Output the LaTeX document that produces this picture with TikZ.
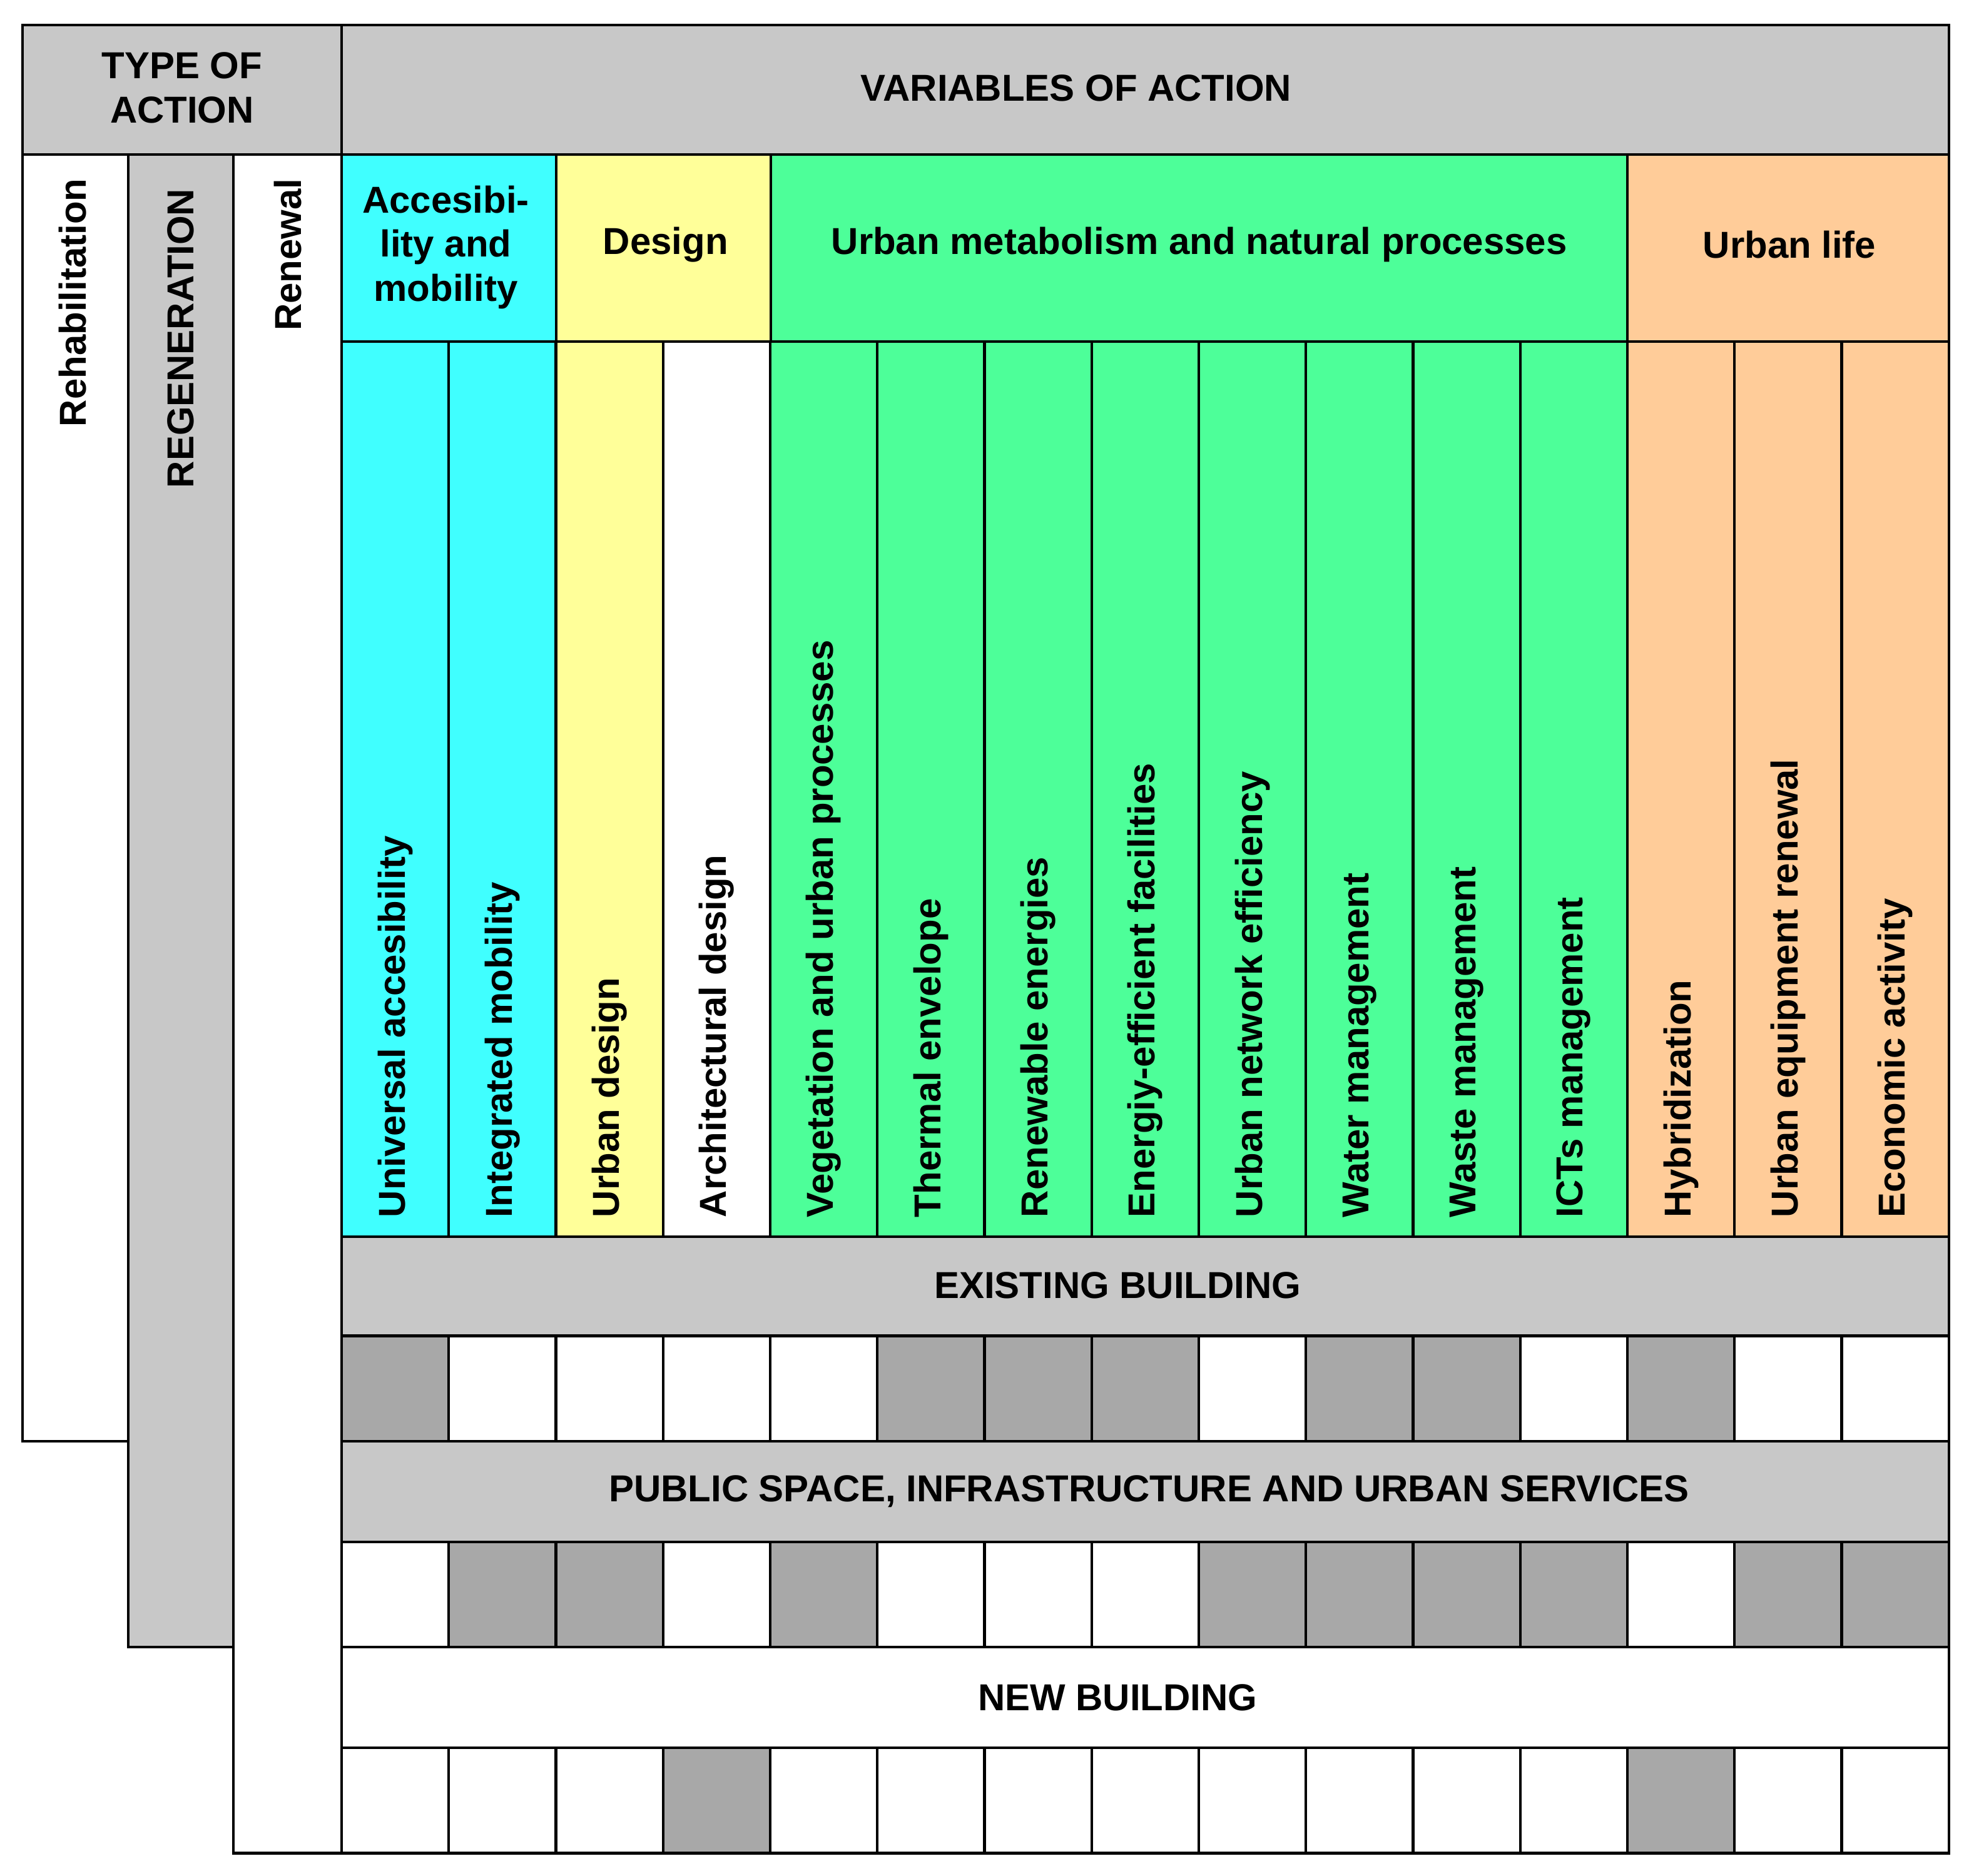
\documentclass[tikz,border=0pt]{standalone}
\usepackage{fontspec}
\setmainfont{Liberation Sans}
\definecolor{cy}{HTML}{40FFFF}
\definecolor{ye}{HTML}{FFFF99}
\definecolor{gr}{HTML}{4DFF99}
\definecolor{orr}{HTML}{FFCC99}
\definecolor{lg}{HTML}{C8C8C8}
\definecolor{dg}{HTML}{A8A8A8}
\begin{document}
\begin{tikzpicture}[x=0.02cm,y=-0.02cm,
  cell/.style={draw=black,line width=1.2pt},
  lab/.style={font=\fontsize{17}{20}\selectfont\bfseries,align=center,inner sep=0pt},
  vlab/.style={lab,rotate=90}]
\useasboundingbox (0,0) rectangle (1568,1494);
% headers
\filldraw[cell,fill=lg] (18,20) rectangle (272,123);
\filldraw[cell,fill=lg] (272,20) rectangle (1552,123);
\node[lab] (toa) at (145,70) {TYPE OF\\ACTION};
\node[lab] (voa) at (857,70) {VARIABLES OF ACTION};
% type columns
\filldraw[cell,fill=white] (18,123) rectangle (102,1148);
\filldraw[cell,fill=lg] (102,123) rectangle (186,1312);
\filldraw[cell,fill=white] (186,123) rectangle (272,1476);
\node[vlab,anchor=east] (reh) at (58,142) {Rehabilitation};
\node[vlab,anchor=east] (reg) at (144,150) {REGENERATION};
\node[vlab,anchor=east] (ren) at (229,142) {Renewal};
% categories
\filldraw[cell,fill=cy] (272,123) rectangle (443,272);
\filldraw[cell,fill=ye] (443,123) rectangle (614,272);
\filldraw[cell,fill=gr] (614,123) rectangle (1296,272);
\filldraw[cell,fill=orr] (1296,123) rectangle (1552,272);
\node[lab] (c1) at (355,197) {Accesibi-\\lity and\\mobility};
\node[lab] (c2) at (530,195) {Design};
\node[lab] (c3) at (955,195) {Urban metabolism and natural processes};
\node[lab] (c4) at (1425,195) {Urban life};
% sub columns
\foreach \c/\t [count=\i from 0] in {cy/Universal accesibility,cy/Integrated mobility,ye/Urban design,white/Architectural design,gr/Vegetation and urban processes,gr/Thermal envelope,gr/Renewable energies,gr/Energiy-efficient facilities,gr/Urban network efficiency,gr/Water management,gr/Waste management,gr/ICTs management,orr/Hybridization,orr/Urban equipment renewal,orr/Economic activity}{
  \pgfmathsetmacro\xa{272+\i*85.33}
  \pgfmathsetmacro\xb{272+(\i+1)*85.33}
  \filldraw[cell,fill=\c] (\xa,272) rectangle (\xb,985);
  \node[vlab,anchor=west] (s\i) at ({(\xa+\xb)/2},970) {\t};
}
% section rows
\filldraw[cell,fill=lg] (272,985) rectangle (1552,1064);
\node[lab] (eb) at (890,1024) {EXISTING BUILDING};
\filldraw[cell,fill=lg] (272,1148) rectangle (1552,1228);
\node[lab] (ps) at (915,1188) {PUBLIC SPACE, INFRASTRUCTURE AND URBAN SERVICES};
\filldraw[cell,fill=white] (272,1312) rectangle (1552,1392);
\node[lab] (nb) at (890,1352) {NEW BUILDING};
% matrices
\foreach \r/\ya/\yb in {{1,0,0,0,0,1,1,1,0,1,1,0,1,0,0}/1064/1148,{0,1,1,0,1,0,0,0,1,1,1,1,0,1,1}/1228/1312,{0,0,0,1,0,0,0,0,0,0,0,0,1,0,0}/1392/1476}{
  \foreach \v [count=\i from 0] in \r {
    \pgfmathsetmacro\xa{272+\i*85.33}
    \pgfmathsetmacro\xb{272+(\i+1)*85.33}
    \ifnum\v=1 \filldraw[cell,fill=dg] (\xa,\ya) rectangle (\xb,\yb);
    \else \filldraw[cell,fill=white] (\xa,\ya) rectangle (\xb,\yb); \fi
  }
}
\end{tikzpicture}
\end{document}
